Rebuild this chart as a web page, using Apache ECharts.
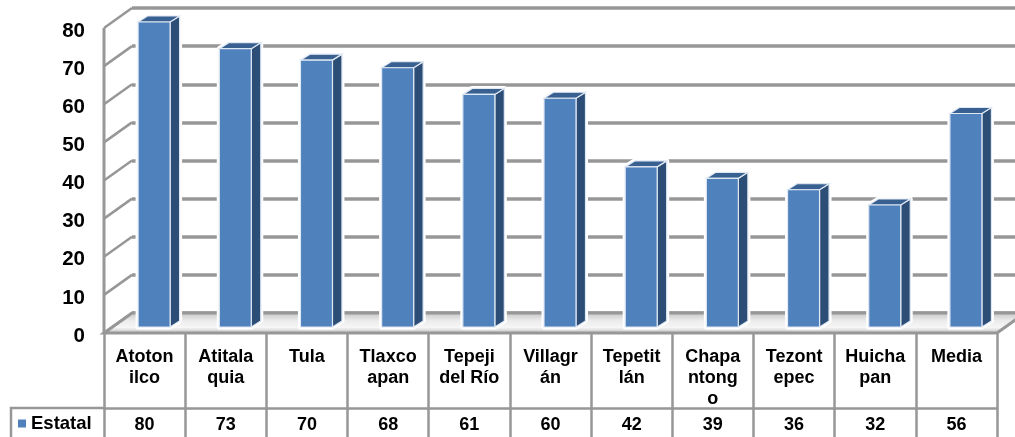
<!DOCTYPE html>
<html><head><meta charset="utf-8">
<style>html,body{margin:0;padding:0;background:#fff}#c{width:1015px;height:437px}</style>
<script src="https://cdn.jsdelivr.net/npm/echarts@6/dist/echarts.min.js"></script>
</head><body><div id="c"></div>
<script>
const categories = ['Atoton\nilco','Atitala\nquia','Tula','Tlaxco\napan','Tepeji\ndel Río','Villagr\nán','Tepetit\nlán','Chapa\nntong\no','Tezont\nepec','Huicha\npan','Media'];
const values = [80,73,70,68,61,60,42,39,36,32,56];
const yTicks = [0,10,20,30,40,50,60,70,80];
const seriesName = 'Estatal';

const FONT = '"Liberation Sans", Arial, sans-serif';
const GRAY = '#979797';
const wallDx = 28, wallDy = -20;
const chart = echarts.init(document.getElementById('c'), null, {renderer:'canvas'});

function renderBar(params, api){
  const p = api.coord([api.value(0), api.value(1)]);
  const b = api.coord([api.value(0), 0]);
  const hw = 16, ox = 9.5, oy = -6, dx = 9.5, dy = -6;
  const l = p[0]-hw+ox, r = p[0]+hw+ox, t = p[1]+oy, bt = b[1]+oy;
  const edge = {stroke:'#dfe8f3', lineWidth:1.2};
  const outline = [[l,t],[l+dx,t+dy],[r+dx,t+dy],[r+dx,bt+dy],[r,bt],[l,bt]];
  return {type:'group', children:[
    {type:'polygon', shape:{points:outline}, style:{fill:'#fff',stroke:'#fff',lineWidth:5,lineJoin:'round'}},
    {type:'polygon', shape:{points:[[r,t],[r+dx,t+dy],[r+dx,bt+dy],[r,bt]]}, style:Object.assign({fill:'#2c4d75'},edge)},
    {type:'polygon', shape:{points:[[l,t],[l+dx,t+dy],[r+dx,t+dy],[r,t]]}, style:Object.assign({fill:'#386090'},edge)},
    {type:'rect', shape:{x:l,y:t,width:r-l,height:bt-t}, style:Object.assign({fill:'#4f81bd'},edge)}
  ]};
}
function renderWall(params, api){
  const p = api.coord([0, api.value(0)]);
  const x0 = api.coord([0,0])[0] - api.size([1,0])[0]/2;
  return {type:'line', shape:{x1:x0,y1:p[1],x2:x0+wallDx,y2:p[1]+wallDy}, style:{stroke:GRAY,lineWidth:2.5}};
}
function renderFloor(params, api){
  const w = api.size([1,0])[0];
  const o = api.coord([0,0]);
  const x0 = o[0]-w/2, x1 = x0+w*categories.length, y = o[1];
  const top = api.coord([0,api.value(0)])[1];
  return {type:'group', children:[
    {type:'polygon', shape:{points:[[x0,y],[x0+wallDx,y+wallDy],[x1+wallDx,y+wallDy],[x1,y]]},
     style:{fill:new echarts.graphic.LinearGradient(0,0,0,1,[
        {offset:0,color:'#c0c0c0'},{offset:0.4,color:'#ececec'},{offset:0.7,color:'#f6f6f6'},{offset:1,color:'#b0b0b0'}]),
        stroke:GRAY,lineWidth:3}},
    {type:'line', shape:{x1:x0,y1:y,x2:x0,y2:top}, style:{stroke:GRAY,lineWidth:3}}
  ]};
}

chart.setOption({
  animation:false,
  backgroundColor:'#fff',
  grid:[
    {left:104, top:28, width:893, height:305},
    {left:132, top:8, width:893, height:305}
  ],
  legend:{
    data:[{name:seriesName, icon:'rect'}], left:18, top:414, itemWidth:8, itemHeight:8, itemGap:5,
    padding:0, textStyle:{fontFamily:FONT,fontWeight:'bold',fontSize:18.5,color:'#000'}
  },
  xAxis:[
    {type:'category', gridIndex:0, data:categories, position:'bottom',
     axisLine:{show:false},
     axisTick:{show:true, alignWithLabel:false, length:104, lineStyle:{color:GRAY,width:2.5}},
     axisLabel:{interval:0, margin:14, color:'#000', fontFamily:FONT, fontWeight:'bold', fontSize:18, lineHeight:21, verticalAlign:'top'}},
    {type:'category', gridIndex:0, data:values.map(String), position:'bottom', offset:75,
     axisLine:{show:true, onZero:false, lineStyle:{color:GRAY,width:2.5}},
     axisTick:{show:false},
     axisLabel:{interval:0, margin:8, color:'#000', fontFamily:FONT, fontWeight:'bold', fontSize:18, verticalAlign:'top'}},
    {type:'category', gridIndex:1, data:categories, show:false}
  ],
  yAxis:[
    {type:'value', gridIndex:0, min:0, max:80, interval:10,
     axisLine:{show:false}, axisTick:{show:false}, splitLine:{show:false},
     axisLabel:{margin:19, color:'#000', fontFamily:FONT, fontWeight:'bold', fontSize:20.5, verticalAlign:'top', lineHeight:6}},
    {type:'value', gridIndex:1, min:0, max:80, interval:10,
     axisLine:{show:false}, axisTick:{show:false}, axisLabel:{show:false},
     splitLine:{show:true, lineStyle:{color:GRAY,width:3.5}}}
  ],
  graphic:[
    {type:'polyline', silent:true, shape:{points:[[104,408],[11,408],[11,437]]}, style:{stroke:GRAY,lineWidth:2.5,fill:null}}
  ],
  series:[
    {type:'custom', name:'floor', xAxisIndex:0, yAxisIndex:0, clip:false, z:1, silent:true,
     renderItem:renderFloor, data:[[80]], encode:{y:0}},
    {type:'custom', name:'wall', xAxisIndex:0, yAxisIndex:0, clip:false, z:2, silent:true,
     renderItem:renderWall, data:yTicks.map(v=>[v]), encode:{y:0}},
    {type:'custom', name:seriesName, xAxisIndex:0, yAxisIndex:0, clip:false, z:3, silent:true,
     itemStyle:{color:'#4f81bd'},
     renderItem:renderBar, data:values.map((v,i)=>[i,v]), encode:{x:0,y:1}}
  ]
});
</script></body></html>
